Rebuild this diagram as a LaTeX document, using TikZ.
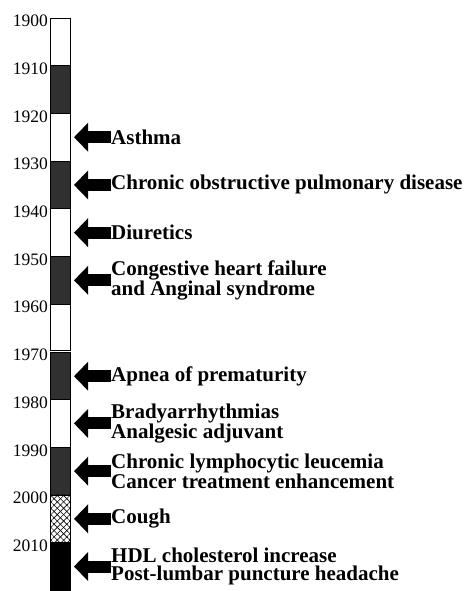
\documentclass[tikz,border=0pt]{standalone}
\usepackage{fontspec}
\setmainfont{Liberation Serif}
\usetikzlibrary{arrows.meta,patterns.meta}
\definecolor{darkgrey}{HTML}{303030}
\begin{document}
\begin{tikzpicture}[x=1pt,y=1pt,
  yearlab/.style={anchor=east,font=\fontsize{17.5}{17.5}\selectfont,inner sep=0pt},
  uselab/.style={anchor=west,align=left,inner sep=0pt,font=\fontsize{21}{17.5}\selectfont\bfseries},
  bigarrow/.style={line width=12pt,-{Triangle[width=28pt,length=14pt]}},
  whitebox/.style={draw=black,line width=0.8pt,fill=white},
  darkbox/.style={draw=black,line width=0.8pt,fill=darkgrey},
  blackbox/.style={draw=black,line width=0.8pt,fill=black},
  hatchbox/.style={draw=black,line width=0.8pt}]
\useasboundingbox (0,0) rectangle (464,591);
\fill[white] (0,0) rectangle (464,591);
% bar
\draw[whitebox] (50.5,573) rectangle (70.5,525.3);
\draw[darkbox]  (50.5,525.3) rectangle (70.5,477.6);
\draw[whitebox] (50.5,477.6) rectangle (70.5,429.9);
\draw[darkbox]  (50.5,429.9) rectangle (70.5,382.2);
\draw[whitebox] (50.5,382.2) rectangle (70.5,334.5);
\draw[darkbox]  (50.5,334.5) rectangle (70.5,286.8);
\draw[whitebox] (50.5,286.8) rectangle (70.5,240.3);
\draw[darkbox]  (50.5,238.1) rectangle (70.5,191.4);
\draw[whitebox] (50.5,191.4) rectangle (70.5,143.7);
\draw[darkbox]  (50.5,143.7) rectangle (70.5,96);
\fill[pattern={Lines[angle=45,distance=4.5pt,line width=0.6pt]}] (50.5,96) rectangle (70.5,48.3);
\fill[pattern={Lines[angle=-45,distance=4.5pt,line width=0.6pt]}] (50.5,96) rectangle (70.5,48.3);
\draw[hatchbox] (50.5,96) rectangle (70.5,48.3);
\draw[blackbox] (50.5,48.3) rectangle (70.5,-2);
% years
\node[yearlab] (y1900) at (48,570) {1900};
\node[yearlab] (y1910) at (48,522.3) {1910};
\node[yearlab] (y1920) at (48,474.6) {1920};
\node[yearlab] (y1930) at (48,426.9) {1930};
\node[yearlab] (y1940) at (48,379.2) {1940};
\node[yearlab] (y1950) at (48,331.5) {1950};
\node[yearlab] (y1960) at (48,283.8) {1960};
\node[yearlab] (y1970) at (48,236.1) {1970};
\node[yearlab] (y1980) at (48,188.4) {1980};
\node[yearlab] (y1990) at (48,140.7) {1990};
\node[yearlab] (y2000) at (48,93) {2000};
\node[yearlab] (y2010) at (48,45.3) {2010};
% labels
\node[uselab] (l1) at (111,453.75) {Asthma};
\node[uselab] (l2) at (111,406.05) {Chronic obstructive pulmonary disease};
\node[uselab] (l3) at (111,358.35) {Diuretics};
\node[uselab] (l4) at (111,310.65) {Congestive heart failure\\and Anginal syndrome};
\node[uselab] (l5) at (111,214.75) {Apnea of prematurity};
\node[uselab] (l6) at (111,167.55) {Bradyarrhythmias\\Analgesic adjuvant};
\node[uselab] (l7) at (111,119.85) {Chronic lymphocytic leucemia\\Cancer treatment enhancement};
\node[uselab] (l8) at (111,72.15) {Cough};
\node[uselab] (l9) at (111,24.45) {HDL cholesterol increase\\Post-lumbar puncture headache};
% arrow tips
\coordinate (t1) at (74,453.75);
\coordinate (t2) at (74,406.05);
\coordinate (t3) at (74,358.35);
\coordinate (t4) at (74,310.65);
\coordinate (t5) at (74,214.75);
\coordinate (t6) at (74,167.55);
\coordinate (t7) at (74,119.85);
\coordinate (t8) at (74,72.15);
\coordinate (t9) at (74,24.45);
\foreach \i in {1,...,9} \draw[bigarrow] (l\i.west) -- (t\i);
\end{tikzpicture}
\end{document}
